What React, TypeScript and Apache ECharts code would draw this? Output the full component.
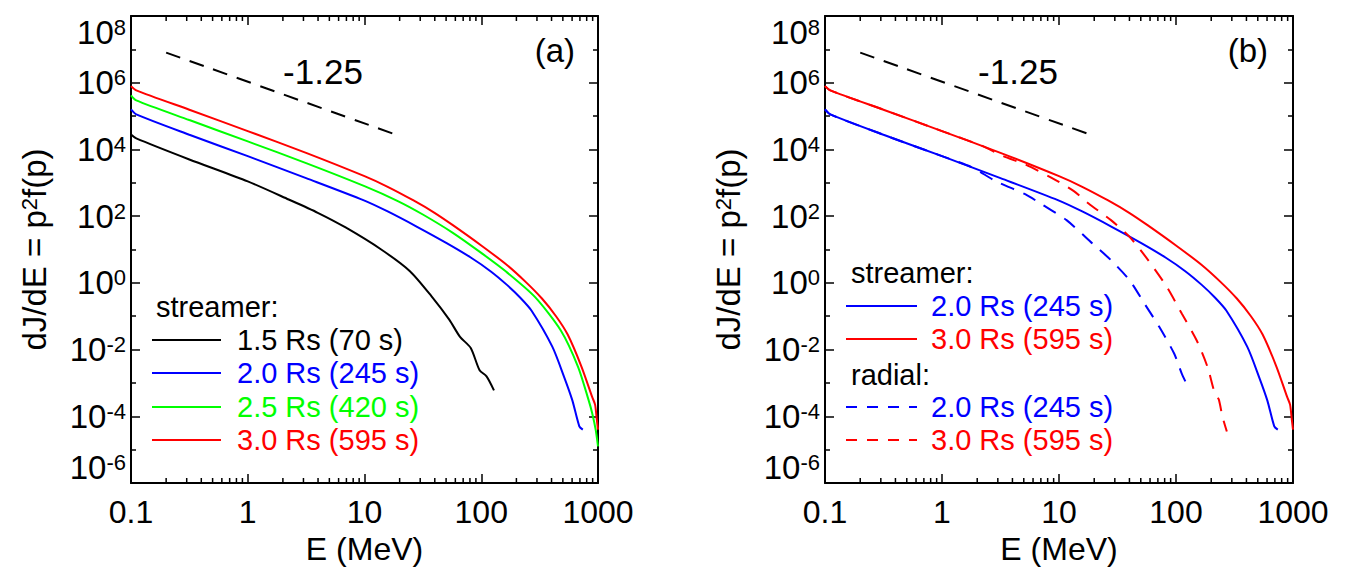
import React, { useEffect, useRef } from "react";
import * as echarts from "echarts";

const FONT = "'Liberation Sans', Arial, Helvetica, sans-serif";

// axis ticks (values in MeV / decades)
const X_TICK_LABELS = ["0.1", "1", "10", "100", "1000"];
const X_MINOR_TICKS = [
  0.2, 0.3, 0.4, 0.5, 0.6, 0.7, 0.8, 0.9,
  2, 3, 4, 5, 6, 7, 8, 9,
  20, 30, 40, 50, 60, 70, 80, 90,
  200, 300, 400, 500, 600, 700, 800, 900,
];

// streamer 1.5 Rs (70 s)
const E_S15 = [0.1, 0.111, 0.316, 1, 2.24, 3.98, 6.89, 13.9, 24.5, 37.4, 53.2, 65.8, 81.3, 96.8, 111, 128.5];
const J_S15 = [2.8e4, 2.14e4, 5.0e3, 1.1e3, 316, 126, 45.7, 10, 2.24, 0.4, 0.079, 0.024, 0.0112, 2.4e-3, 1.58e-3, 6.0e-4];

// streamer 2.0 Rs (245 s)
const E_S20 = [0.1, 0.111, 0.316, 1, 3.16, 9.77, 15.8, 28.2, 50.1, 81.3, 120, 166, 214, 269, 407, 513, 603, 692, 741];
const J_S20 = [1.58e5, 1.12e5, 2.75e4, 6.3e3, 1.38e3, 302, 138, 47.9, 15.8, 5.75, 2.24, 0.87, 0.37, 0.148, 0.012, 1.5e-3, 3.0e-4, 5.0e-5, 4.0e-5];

// streamer 2.5 Rs (420 s)
const E_S25 = [0.1, 0.111, 0.316, 1, 3.16, 10, 19.1, 31.6, 57.1, 100, 164, 288, 479, 676, 832, 891, 955, 1000];
const J_S25 = [4.2e5, 2.95e5, 7.6e4, 1.74e4, 3.9e3, 794, 288, 112, 31.6, 7.9, 2.14, 0.38, 0.038, 3.0e-3, 3.0e-4, 1.26e-4, 4.0e-5, 1.26e-5];

// streamer 3.0 Rs (595 s)
const E_S30 = [0.1, 0.111, 0.316, 1, 3.16, 10, 15.8, 26.3, 39.8, 57.1, 100, 164, 240, 331, 437, 550, 724, 891, 944, 977, 1000];
const J_S30 = [7.9e5, 5.9e5, 1.55e5, 3.55e4, 7.9e3, 1.58e3, 759, 295, 126, 53.7, 13.2, 3.55, 1.07, 0.339, 0.1, 0.0282, 3.0e-3, 3.8e-4, 2.24e-4, 7.9e-5, 4.0e-5];

// radial 2.0 Rs (245 s)
const E_R20 = [0.1, 0.111, 0.316, 1, 1.79, 2.88, 5.18, 6.93, 11.6, 19.3, 27.8, 40.1, 53.7, 71.9, 96.4, 112, 124];
const J_R20 = [1.58e5, 1.12e5, 2.75e4, 6.3e3, 2.95e3, 1.12e3, 447, 240, 76, 15.1, 4.8, 1.2, 0.24, 0.048, 7.6e-3, 1.9e-3, 8.9e-4];

// radial 3.0 Rs (595 s)
const E_R30 = [0.1, 0.111, 0.316, 1, 2.15, 3.34, 5.18, 8.65, 13.4, 17.9, 27.8, 40.1, 57.8, 83.4, 112, 150, 186, 215, 232, 249, 272];
const J_R30 = [7.9e5, 5.9e5, 1.55e5, 3.55e4, 1.32e4, 6.3e3, 3.5e3, 1.41e3, 562, 240, 76, 24, 4.8, 0.76, 0.12, 0.019, 3.0e-3, 4.8e-4, 3.2e-4, 1.0e-4, 3.5e-5];

// power-law guide, index -1.25
const E_GUIDE = [0.2, 20];
const J_GUIDE = [8e6, 2.53e4];

const BLACK = "#000000";
const BLUE = "#0000ff";
const GREEN = "#00ff00";
const RED = "#ff0000";

const toLog = (es: number[], js: number[]) => es.map((e, i) => [Math.log10(e), Math.log10(js[i])]);

const GRIDS = [
  { left: 131, top: 16, width: 467, height: 467 },
  { left: 825, top: 16, width: 468, height: 467 },
];

function lineSeries(g: number, es: number[], js: number[], color: string, dashed: boolean, dash: number[] = [14, 10]) {
  return {
    type: "line",
    xAxisIndex: 2 * g,
    yAxisIndex: 2 * g,
    data: toLog(es, js),
    showSymbol: false,
    symbol: "none",
    smooth: 0.25,
    silent: true,
    lineStyle: { color, width: 2, type: dashed ? dash : "solid" },
  };
}

function tickSeries(g: number) {
  return {
    type: "custom",
    xAxisIndex: 2 * g,
    yAxisIndex: 2 * g,
    silent: true,
    clip: false,
    data: X_MINOR_TICKS.map((e) => [Math.log10(e), 0]),
    renderItem: (_p: any, api: any) => {
      const x = api.value(0);
      const b = api.coord([x, -6]);
      const t = api.coord([x, 8]);
      return {
        type: "group",
        children: [
          { type: "line", shape: { x1: b[0], y1: b[1], x2: b[0], y2: b[1] - 5 }, style: { stroke: BLACK, lineWidth: 1.5 } },
          { type: "line", shape: { x1: t[0], y1: t[1], x2: t[0], y2: t[1] + 5 }, style: { stroke: BLACK, lineWidth: 1.5 } },
        ],
      };
    },
  };
}

const axisLine = { show: true, onZero: false, lineStyle: { color: BLACK, width: 2 } };
const majorTick = { show: true, inside: true, length: 9, lineStyle: { color: BLACK, width: 1.5 } };

function xAxes(g: number) {
  return [
    {
      type: "value",
      gridIndex: g,
      position: "bottom",
      min: -1,
      max: 3,
      interval: 1,
      axisLine,
      axisTick: majorTick,
      splitLine: { show: false },
      axisLabel: {
        show: true,
        margin: 13,
        color: BLACK,
        fontSize: 32,
        fontFamily: FONT,
        formatter: (v: number) => X_TICK_LABELS[Math.round(v) + 1],
      },
      name: "E (MeV)",
      nameLocation: "middle",
      nameGap: 46,
      nameTextStyle: { color: BLACK, fontSize: 32, fontFamily: FONT },
    },
    {
      type: "value",
      gridIndex: g,
      position: "top",
      min: -1,
      max: 3,
      interval: 1,
      axisLine,
      axisTick: majorTick,
      splitLine: { show: false },
      axisLabel: { show: false },
    },
  ];
}

function yAxes(g: number) {
  const minor = { show: true, splitNumber: 2, length: 5, lineStyle: { color: BLACK, width: 1.5 } };
  return [
    {
      type: "value",
      gridIndex: g,
      position: "left",
      min: -6,
      max: 8,
      interval: 2,
      axisLine,
      axisTick: majorTick,
      minorTick: minor,
      splitLine: { show: false },
      minorSplitLine: { show: false },
      axisLabel: {
        show: true,
        margin: 5,
        color: BLACK,
        fontFamily: FONT,
        formatter: (v: number) => `{a|10}{b|${Math.round(v)}}`,
        verticalAlignMinLabel: "bottom",
        verticalAlignMaxLabel: "top",
        rich: {
          a: { fontSize: 33, lineHeight: 32, fontFamily: FONT, color: BLACK },
          b: { fontSize: 22, lineHeight: 20, fontFamily: FONT, color: BLACK, verticalAlign: "top" },
        },
      },
      name: "dJ/dE = p{s|2}f(p)",
      nameLocation: "middle",
      nameRotate: 90,
      nameGap: 80,
      nameTextStyle: {
        color: BLACK,
        fontSize: 33,
        fontFamily: FONT,
        rich: { s: { fontSize: 22, fontFamily: FONT, color: BLACK, verticalAlign: "top", lineHeight: 20 } },
      },
    },
    {
      type: "value",
      gridIndex: g,
      position: "right",
      min: -6,
      max: 8,
      interval: 2,
      axisLine,
      axisTick: majorTick,
      minorTick: minor,
      splitLine: { show: false },
      minorSplitLine: { show: false },
      axisLabel: { show: false },
    },
  ];
}

function txt(x: number, y: number, text: string, color: string, size = 29, align = "left") {
  return {
    type: "text",
    x,
    y,
    silent: true,
    style: { text, fill: color, fontSize: size, fontFamily: FONT, align, verticalAlign: "middle" },
  };
}

function seg(x1: number, x2: number, y: number, color: string, dashed: boolean) {
  return {
    type: "line",
    silent: true,
    shape: { x1, y1: y, x2, y2: y },
    style: { stroke: color, lineWidth: 2, lineDash: dashed ? [11, 10] : null },
  };
}

export default function App() {
  const ref = useRef<HTMLDivElement>(null);
  useEffect(() => {
    if (!ref.current) return;
    const chart = echarts.init(ref.current, null, { renderer: "svg" });
    const option: any = {
      animation: false,
      backgroundColor: "#ffffff",
      grid: GRIDS,
      xAxis: [...xAxes(0), ...xAxes(1)],
      yAxis: [...yAxes(0), ...yAxes(1)],
      series: [
        tickSeries(0),
        tickSeries(1),
        lineSeries(0, E_GUIDE, J_GUIDE, BLACK, true, [15, 10]),
        lineSeries(0, E_S15, J_S15, BLACK, false),
        lineSeries(0, E_S20, J_S20, BLUE, false),
        lineSeries(0, E_S25, J_S25, GREEN, false),
        lineSeries(0, E_S30, J_S30, RED, false),
        lineSeries(1, E_GUIDE, J_GUIDE, BLACK, true, [15, 10]),
        lineSeries(1, E_S20, J_S20, BLUE, false),
        lineSeries(1, E_S30, J_S30, RED, false),
        lineSeries(1, E_R20, J_R20, BLUE, true),
        lineSeries(1, E_R30, J_R30, RED, true),
      ],
      graphic: [
        txt(323, 71, "-1.25", BLACK, 35, "center"),
        txt(575, 50, "(a)", BLACK, 33, "right"),
        txt(156, 307, "streamer:", BLACK),
        seg(152, 221, 340, BLACK, false),
        txt(237, 340, "1.5 Rs (70 s)", BLACK),
        seg(152, 221, 373, BLUE, false),
        txt(237, 373, "2.0 Rs (245 s)", BLUE),
        seg(152, 221, 407, GREEN, false),
        txt(237, 407, "2.5 Rs (420 s)", GREEN),
        seg(152, 221, 440, RED, false),
        txt(237, 440, "3.0 Rs (595 s)", RED),

        txt(1018, 71, "-1.25", BLACK, 35, "center"),
        txt(1268, 50, "(b)", BLACK, 33, "right"),
        txt(851, 273, "streamer:", BLACK),
        seg(846, 917, 306, BLUE, false),
        txt(931, 306, "2.0 Rs (245 s)", BLUE),
        seg(846, 917, 339, RED, false),
        txt(931, 339, "3.0 Rs (595 s)", RED),
        txt(851, 375, "radial:", BLACK),
        seg(846, 917, 407, BLUE, true),
        txt(931, 407, "2.0 Rs (245 s)", BLUE),
        seg(846, 917, 440, RED, true),
        txt(931, 440, "3.0 Rs (595 s)", RED),
      ],
    };
    chart.setOption(option);
    return () => chart.dispose();
  }, []);
  return (
    <div
      ref={ref}
      style={{ position: "fixed", left: 0, top: 0, width: 1351, height: 576, background: "#ffffff" }}
    />
  );
}
